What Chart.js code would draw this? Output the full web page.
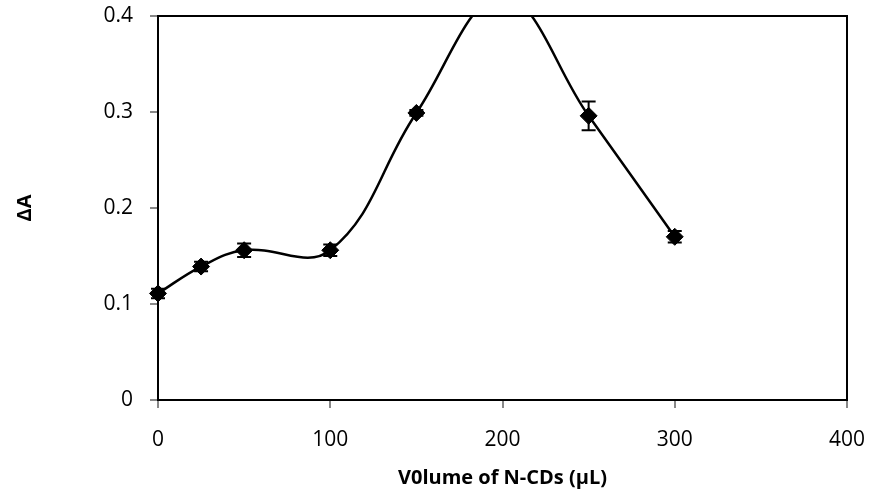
<!DOCTYPE html>
<html>
<head>
<meta charset="utf-8">
<script src="https://cdn.jsdelivr.net/npm/chart.js@4.4.0/dist/chart.umd.min.js"></script>
<style>
  html, body { margin: 0; padding: 0; background: #fff; }
  #wrap { width: 871px; height: 494px; }
</style>
</head>
<body>
<div id="wrap"><canvas id="myChart"></canvas></div>
<script>
// volumes (uL) and measured absorbance change
const volumes = [0, 25, 50, 100, 150, 200, 250, 300];
const deltaA = [0.111, 0.139, 0.156, 0.156, 0.299, 0.42, 0.296, 0.170];
const errors = [0.005, 0.005, 0.007, 0.006, 0.003, 0.010, 0.015, 0.006];
const xTicks = [0, 100, 200, 300, 400];
const yTicks = [0, 0.1, 0.2, 0.3, 0.4];

const points = volumes.map((v, i) => ({ x: v, y: deltaA[i] }));

// error bars + frame, drawn through the chart scales
const errorBars = {
    id: 'errorBars',
    afterDatasetsDraw(chart) {
        const ctx = chart.ctx;
        const xs = chart.scales.x, ys = chart.scales.y;
        const area = chart.chartArea;
        ctx.save();
        ctx.beginPath();
        ctx.rect(area.left - 12, area.top, area.right - area.left + 12, area.bottom - area.top);
        ctx.clip();
        ctx.strokeStyle = '#000';
        ctx.lineWidth = 2;
        volumes.forEach((v, i) => {
            const px = xs.getPixelForValue(v);
            const top = ys.getPixelForValue(deltaA[i] + errors[i]);
            const bot = ys.getPixelForValue(deltaA[i] - errors[i]);
            ctx.beginPath();
            ctx.moveTo(px, top); ctx.lineTo(px, bot);
            ctx.moveTo(px - 7, top); ctx.lineTo(px + 7, top);
            ctx.moveTo(px - 7, bot); ctx.lineTo(px + 7, bot);
            ctx.stroke();
        });
        ctx.restore();
        // box around the plot
        ctx.save();
        ctx.strokeStyle = '#000';
        ctx.lineWidth = 2;
        ctx.strokeRect(area.left, area.top, area.right - area.left, area.bottom - area.top);
        ctx.restore();
    }
};

function noOverflow(axis) {
    axis.paddingLeft = 0;
    axis.paddingRight = 0;
    axis.paddingTop = 0;
    axis.paddingBottom = 0;
}

const config = {
    type: 'scatter',
    data: {
        datasets: [{
            label: 'ΔA',
            data: points,
            showLine: true,
            tension: 0.4,
            clip: { left: 12, top: 0, right: 0, bottom: 0 },
            borderColor: '#000',
            borderWidth: 2.5,
            pointStyle: 'rectRot',
            pointRadius: 8.5,
            pointBackgroundColor: '#000',
            pointBorderColor: '#000',
            pointBorderWidth: 1
        }]
    },
    options: {
        responsive: true,
        maintainAspectRatio: false,
        animation: false,
        layout: { padding: { left: 0, right: 24, top: 16, bottom: 0 } },
        plugins: {
            legend: { display: false },
            tooltip: { enabled: false }
        },
        scales: {
            x: {
                type: 'linear',
                min: 0, max: 400,
                afterBuildTicks: axis => { axis.ticks = xTicks.map(v => ({ value: v })); },
                afterFit: axis => { axis.height = 94; noOverflow(axis); },
                grid: { drawOnChartArea: false, tickLength: 8, color: '#888', lineWidth: 2 },
                border: { color: '#000', width: 2 },
                ticks: { color: '#000', font: { family: 'Open Sans', size: 21 }, padding: 19 },
                title: {
                    display: true,
                    text: 'V0lume of N-CDs (µL)',
                    color: '#000',
                    font: { family: 'Open Sans', size: 20, weight: 'bold' },
                    padding: { top: 4, bottom: 4 }
                }
            },
            y: {
                min: 0, max: 0.4,
                afterBuildTicks: axis => { axis.ticks = yTicks.map(v => ({ value: v })); },
                afterFit: axis => { axis.width = 158; noOverflow(axis); },
                grid: { drawOnChartArea: false, tickLength: 8, color: '#888', lineWidth: 2 },
                border: { color: '#000', width: 2 },
                ticks: {
                    color: '#000',
                    font: { family: 'Open Sans', size: 21 },
                    padding: 17,
                    callback: v => (v === 0 ? '0' : v.toFixed(1))
                },
                title: {
                    display: true,
                    text: 'ΔA',
                    color: '#000',
                    font: { family: 'Open Sans', size: 20, weight: 'bold' },
                    padding: { top: 13, bottom: 0 }
                }
            }
        }
    },
    plugins: [errorBars]
};

new Chart(document.getElementById('myChart'), config);
</script>
</body>
</html>
